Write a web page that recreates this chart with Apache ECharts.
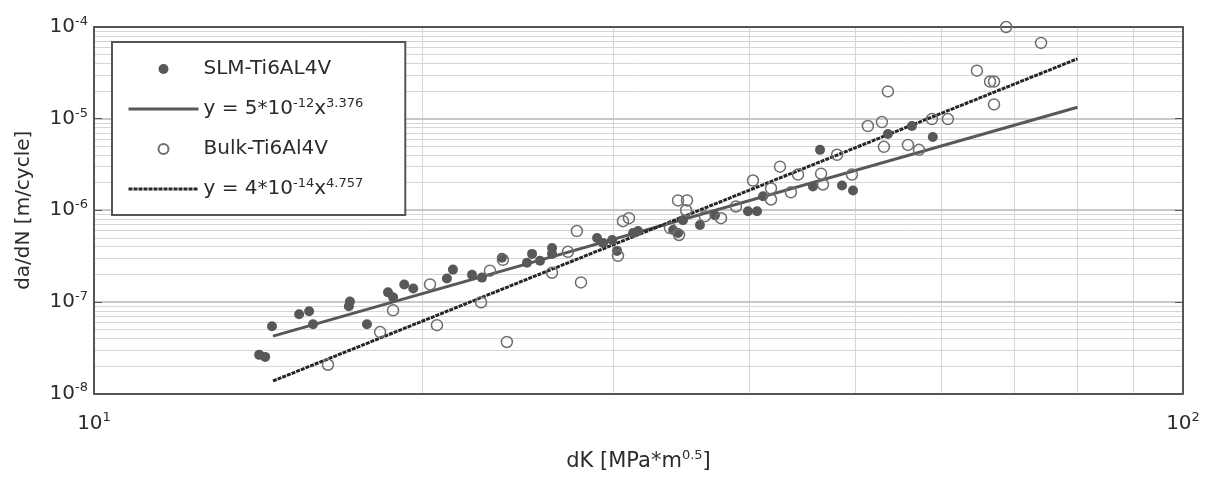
<!DOCTYPE html>
<html><head><meta charset="utf-8">
<script src="https://cdn.jsdelivr.net/npm/echarts@6/dist/echarts.min.js"></script>
<style>html,body{margin:0;padding:0;background:#fff}#c{width:1206px;height:477px}</style>
</head><body><div id="c"></div>
<script>
// SLM-Ti6AL4V (filled markers)
const slmDK = [14.18,14.36,14.57,15.43,15.76,15.89,17.18,17.14,17.81,18.62,18.82,19.27,19.64,21.09,21.36,22.24,22.71,23.69,24.98,25.25,25.68,26.34,26.34,28.97,29.34,29.91,30.22,31.26,31.59,34.02,34.38,34.74,36.01,37.17,39.86,40.63,41.15,46.42,45.73,48.63,49.77,53.58,56.37,58.92];
const slmRate = [2.64e-8,2.51e-8,5.43e-8,7.33e-8,7.89e-8,5.71e-8,1.01e-7,8.94e-8,5.71e-8,1.27e-7,1.12e-7,1.55e-7,1.40e-7,1.80e-7,2.25e-7,1.98e-7,1.84e-7,3.03e-7,2.67e-7,3.34e-7,2.81e-7,3.88e-7,3.34e-7,4.98e-7,4.40e-7,4.74e-7,3.60e-7,5.64e-7,5.93e-7,6.08e-7,5.64e-7,7.80e-7,6.89e-7,8.83e-7,9.75e-7,9.75e-7,1.42e-6,4.56e-6,1.82e-6,1.86e-6,1.64e-6,6.80e-6,8.30e-6,6.31e-6];
// Bulk-Ti6Al4V (open markers)
const bulkDK = [16.40,18.31,18.82,20.35,20.65,22.67,23.10,23.74,23.94,26.34,27.24,27.76,28.00,30.28,30.60,30.99,33.80,34.45,34.38,35.04,34.97,36.39,37.65,38.86,40.28,41.85,41.85,42.65,43.65,44.31,46.52,46.71,48.12,49.66,51.36,52.91,53.13,53.58,55.90,57.22,58.81,60.83,64.68,66.50,67.06,67.06,68.80,74.07];
const bulkRate = [2.06e-8,4.68e-8,8.09e-8,1.55e-7,5.57e-8,9.88e-8,2.19e-7,2.88e-7,3.65e-8,2.08e-7,3.52e-7,5.93e-7,1.63e-7,3.18e-7,7.60e-7,8.20e-7,6.39e-7,5.37e-7,1.28e-6,1.28e-6,1.0e-6,8.61e-7,8.20e-7,1.10e-6,2.11e-6,1.73e-6,1.31e-6,2.99e-6,1.57e-6,2.45e-6,2.51e-6,1.91e-6,4.03e-6,2.45e-6,8.30e-6,9.17e-6,4.92e-6,1.98e-5,5.17e-6,4.56e-6,9.88e-6,9.88e-6,3.34e-5,2.54e-5,2.54e-5,1.43e-5,1.0e-4,6.71e-5];
// fitted power-law lines (end points)
const slmFitDK = [14.6, 80];
const slmFitRate = [4.23e-8, 1.33e-5];
const bulkFitDK = [14.6, 80];
const bulkFitRate = [1.37e-8, 4.5e-5];
// axis / grid tick values
const xGridTicks = [20,30,40,50,60,70,80,90];
const yMantissas = [2,3,4,5,6,7,8,9];
const yDecades = [-8,-7,-6,-5];
const yMajorTicks = [1e-7,1e-6,1e-5];
const X_MIN = 10, X_MAX = 100, Y_MIN = 1e-8, Y_MAX = 1e-4;

const names = {
  slm: 'SLM-Ti6AL4V', slmFit: 'y = 5*10^-12x^3.376',
  bulk: 'Bulk-Ti6Al4V', bulkFit: 'y = 4*10^-14x^4.757'
};
const legendRich = {
  [names.slm]: 'SLM-Ti6AL4V{sup| }',
  [names.slmFit]: 'y = 5*10{sup|-12}x{sup|3.376}',
  [names.bulk]: 'Bulk-Ti6Al4V{sup| }',
  [names.bulkFit]: 'y = 4*10{sup|-14}x{sup|4.757}'
};
const zip = (a, b) => a.map((v, i) => [v, b[i]]);
const yMinorTicks = [];
yDecades.forEach(d => yMantissas.forEach(m => yMinorTicks.push(+(m + 'e' + d))));

const FONT = 'DejaVu Sans';
const TXT = '#2b2b2b';
const supStyle = { fontSize: 13, fontFamily: FONT, color: TXT, padding: [0, 0, 11, 0] };
const baseStyle = { fontSize: 20, fontFamily: FONT, color: TXT };
const expLabel = v => '{b|10}{sup|' + Math.round(Math.log10(v)) + '}';

const hLine = (v, style) => [{ coord: [X_MIN, v], lineStyle: style }, { coord: [X_MAX, v] }];
const vLine = (v, style) => [{ coord: [v, Y_MIN], lineStyle: style }, { coord: [v, Y_MAX] }];

const chart = echarts.init(document.getElementById('c'), null, { renderer: 'canvas' });
chart.setOption({
  backgroundColor: '#fff',
  animation: false,
  grid: { left: 94, right: 23, top: 27, bottom: 80 },
  xAxis: [{
    type: 'log', logBase: 10, min: X_MIN, max: X_MAX,
    name: 'dK [MPa*m{sup|0.5}]', nameLocation: 'middle', nameGap: 56,
    nameTextStyle: { fontSize: 21, fontFamily: FONT, color: TXT, rich: { sup: supStyle } },
    axisLine: { lineStyle: { color: '#555', width: 2 } },
    axisTick: { inside: true, length: 6, lineStyle: { color: '#555' } },
    axisLabel: { margin: 18, formatter: expLabel, rich: { b: baseStyle, sup: supStyle } },
    splitLine: { show: false }
  }, {
    type: 'log', logBase: 10, min: X_MIN, max: X_MAX, position: 'top',
    axisLine: { lineStyle: { color: '#555', width: 2 } },
    axisTick: { inside: true, length: 6, lineStyle: { color: '#555' } },
    axisLabel: { show: false }, splitLine: { show: false }
  }],
  yAxis: [{
    type: 'log', logBase: 10, min: Y_MIN, max: Y_MAX,
    name: 'da/dN [m/cycle]', nameLocation: 'middle', nameGap: 60,
    nameTextStyle: { fontSize: 20, fontFamily: FONT, color: TXT },
    axisLine: { lineStyle: { color: '#555', width: 2 } },
    axisTick: { inside: true, length: 8, lineStyle: { color: '#555' } },
    axisLabel: { margin: 6, formatter: expLabel, rich: { b: baseStyle, sup: supStyle } },
    splitLine: { show: false }
  }, {
    type: 'log', logBase: 10, min: Y_MIN, max: Y_MAX, position: 'right',
    axisLine: { lineStyle: { color: '#555', width: 2 } },
    axisTick: { inside: true, length: 8, lineStyle: { color: '#555' } },
    axisLabel: { show: false }, splitLine: { show: false }
  }],
  legend: {
    orient: 'vertical', left: 112, top: 42, z: 10,
    padding: [15, 42, 16, 15], itemGap: 18,
    itemWidth: 70, itemHeight: 10,
    backgroundColor: '#fff', borderColor: '#555', borderWidth: 2,
    lineStyle: { width: 3 },
    data: [
      { name: names.slm },
      { name: names.slmFit, itemStyle: { opacity: 0 } },
      { name: names.bulk },
      { name: names.bulkFit, itemStyle: { opacity: 0 } }
    ],
    formatter: n => legendRich[n],
    textStyle: { fontSize: 20, fontFamily: FONT, color: TXT, rich: { sup: supStyle } }
  },
  series: [
    {
      name: 'grid', type: 'scatter', data: [], silent: true, z: 0,
      markLine: {
        z: 0, silent: true, symbol: 'none', label: { show: false }, animation: false,
        lineStyle: { color: '#d6d6d6', width: 1, type: 'solid' },
        data: xGridTicks.map(v => vLine(v))
          .concat(yMinorTicks.map(v => hLine(v)))
          .concat(yMajorTicks.map(v => hLine(v, { color: '#c8c8c8', width: 2, type: 'solid' })))
      }
    },
    {
      name: names.slmFit, type: 'line', data: zip(slmFitDK, slmFitRate), showSymbol: false, symbol: 'none', z: 3,
      lineStyle: { color: '#585858', width: 3 }, itemStyle: { color: '#585858' }
    },
    {
      name: names.bulkFit, type: 'line', data: zip(bulkFitDK, bulkFitRate), showSymbol: false, symbol: 'none', z: 3,
      lineStyle: { color: '#262626', width: 3, type: [4, 1] }, itemStyle: { color: '#262626' }
    },
    {
      name: names.slm, type: 'scatter', data: zip(slmDK, slmRate), symbol: 'circle', symbolSize: 10, z: 4,
      itemStyle: { color: '#585858', opacity: 1 }
    },
    {
      name: names.bulk, type: 'scatter', data: zip(bulkDK, bulkRate), symbol: 'circle', symbolSize: 11, z: 5,
      itemStyle: { color: 'rgba(0,0,0,0)', borderColor: '#6e6e6e', borderWidth: 1.5, opacity: 1 }
    }
  ]
});
</script></body></html>
